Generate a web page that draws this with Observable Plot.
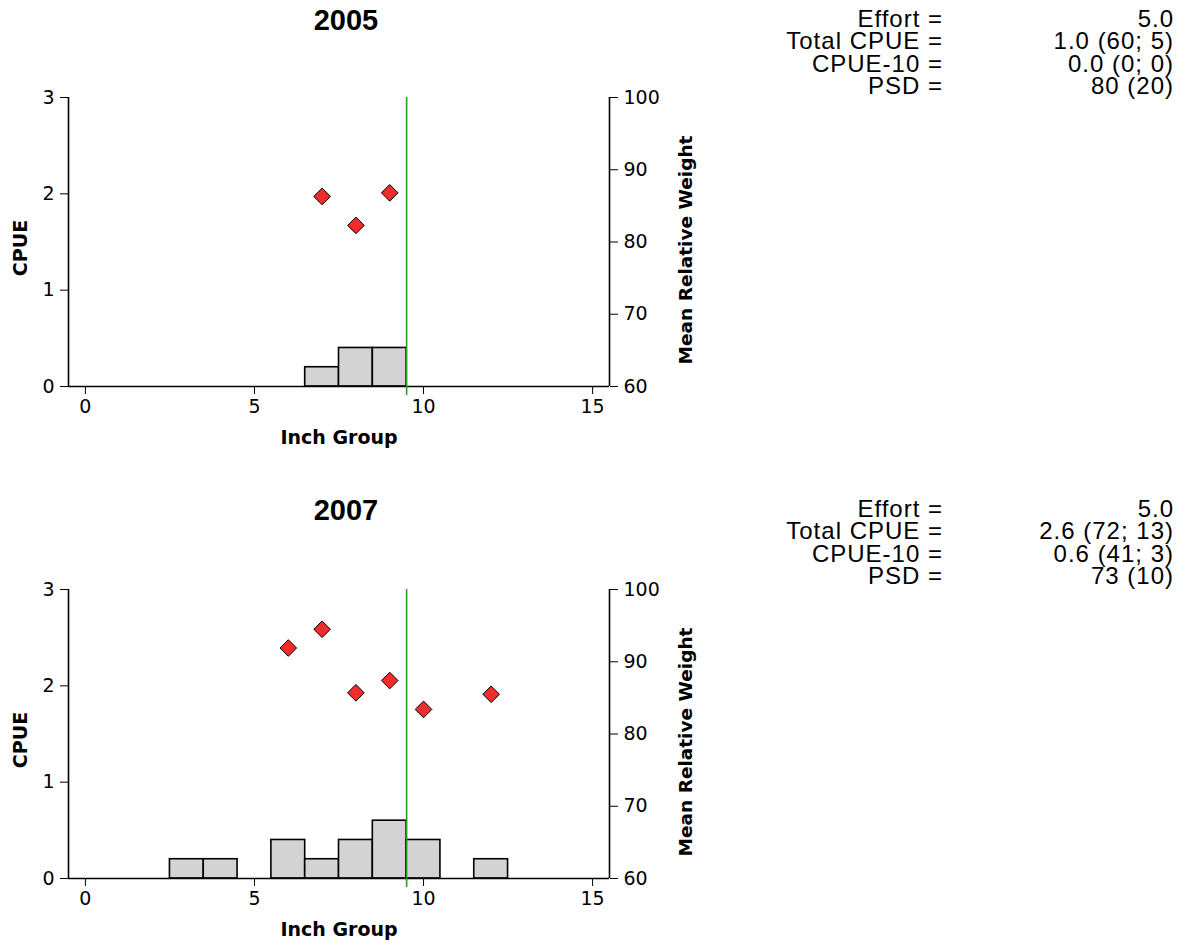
<!DOCTYPE html>
<html>
<head>
<meta charset="utf-8">
<script src="https://cdn.jsdelivr.net/npm/d3@7"></script>
<script src="https://cdn.jsdelivr.net/npm/@observablehq/plot@0.6"></script>
<style>
  html, body { margin: 0; padding: 0; background: #fff; }
  #root { position: relative; width: 1187px; height: 950px; overflow: hidden; background: #fff; }
  .layer { position: absolute; left: 0; }
  .title { position: absolute; width: 200px; text-align: center; font-family: "Liberation Sans", Arial, sans-serif;
           font-weight: bold; font-size: 29px; line-height: 29px; color: #000; }
  .stats { position: absolute; font-family: "Liberation Sans", Arial, sans-serif; font-size: 24px;
           line-height: 22.3px; color: #000; text-align: right; white-space: pre; letter-spacing: 1px; }
</style>
</head>
<body>
<div id="root"></div>
<script>
// ---------- data ----------
const years = ["2005", "2007"];

const xDomain = [-0.5, 15.5];
const xTicks = [0, 5, 10, 15];
const cpueDomain = [0, 3];
const cpueTicks = [0, 1, 2, 3];
const wrDomain = [60, 100];
const wrTicks = [60, 70, 80, 90, 100];
const lengthLine = [9.5, 9.5];

// CPUE histogram (inch group, CPUE)
const cpueGroups2005 = [7, 8, 9];
const cpueValues2005 = [0.2, 0.4, 0.4];
const cpueGroups2007 = [3, 4, 6, 7, 8, 9, 10, 12];
const cpueValues2007 = [0.2, 0.2, 0.4, 0.2, 0.4, 0.6, 0.4, 0.2];

// Mean relative weight (inch group, Wr)
const wrGroups2005 = [7, 8, 9];
const wrValues2005 = [86.3, 82.3, 86.8];
const wrGroups2007 = [6, 7, 8, 9, 10, 12];
const wrValues2007 = [91.9, 94.5, 85.7, 87.4, 83.4, 85.5];

// summary statistics
const statLabels = ["Effort =", "Total CPUE =", "CPUE-10 =", "PSD ="];
const statValues2005 = ["5.0", "1.0 (60; 5)", "0.0 (0; 0)", "80 (20)"];
const statValues2007 = ["5.0", "2.6 (72; 13)", "0.6 (41; 3)", "73 (10)"];

// ---------- drawing ----------
const root = document.getElementById("root");
const W = 720, H = 455;
const margins = {marginTop: 97, marginLeft: 68, marginRight: W - 609, marginBottom: H - 386};
const axisStyle = {fontFamily: "'DejaVu Sans', sans-serif", fontSize: "19px", background: "transparent", overflow: "visible", color: "#000"};
const fmt = d => String(d);

function panel(top, titleTop, statTop, year, gx, gy, wx, wy, stats, line) {
  const bars = gx.map((g, i) => ({g, v: gy[i]}));
  const pts = wx.map((g, i) => ({g, w: wy[i]}));

  const p1 = Plot.plot({
    width: W, height: H, ...margins,
    style: axisStyle,
    x: {domain: xDomain, ticks: xTicks, tickFormat: fmt, tickSize: 8, tickPadding: 5, label: null},
    y: {domain: cpueDomain, ticks: cpueTicks, tickFormat: fmt, tickSize: 8, tickPadding: 6, label: null},
    marks: [
      Plot.rect(bars, {x1: d => d.g - 0.5, x2: d => d.g + 0.5, y1: () => 0, y2: "v",
                       fill: "#d3d3d3", stroke: "#000", strokeWidth: 1.6}),
      Plot.ruleX([xDomain[0]], {stroke: "#000", strokeWidth: 1.6}),
      Plot.ruleY([cpueDomain[0]], {stroke: "#000", strokeWidth: 1.6}),
      Plot.ruleX([line], {stroke: "#2b9a2b", strokeWidth: 1.6, insetBottom: -9}),
      Plot.text(["Inch Group"], {text: d => d, frameAnchor: "bottom", dy: 57, textAnchor: "middle",
                 fontWeight: "bold", fontSize: 19, fill: "#000"}),
      Plot.text(["CPUE"], {text: d => d, frameAnchor: "left", rotate: -90, dx: -48, dy: 6, textAnchor: "middle",
                 fontWeight: "bold", fontSize: 19, fill: "#000"})
    ]
  });
  p1.classList.add("layer");
  p1.style.top = top + "px";
  root.appendChild(p1);

  const p2 = Plot.plot({
    width: W, height: H, ...margins,
    style: axisStyle,
    x: {domain: xDomain, axis: null},
    y: {domain: wrDomain, ticks: wrTicks, tickFormat: fmt, axis: "right", tickSize: 8, tickPadding: 6, label: null},
    marks: [
      Plot.ruleX([xDomain[1]], {stroke: "#000", strokeWidth: 1.6}),
      Plot.dot(pts, {x: "g", y: "w", symbol: "diamond2", r: 7.5, fill: "#f02c2c", stroke: "#000", strokeWidth: 1}),
      Plot.text(["Mean Relative Weight"], {text: d => d, frameAnchor: "right", rotate: -90, dx: 77, dy: 8, textAnchor: "middle",
                 fontWeight: "bold", fontSize: 18.5, fill: "#000"})
    ]
  });
  p2.classList.add("layer");
  p2.style.top = top + "px";
  root.appendChild(p2);

  const t = document.createElement("div");
  t.className = "title";
  t.style.left = (346 - 100) + "px";
  t.style.top = titleTop + "px";
  t.textContent = year;
  root.appendChild(t);

  const lab = document.createElement("div");
  lab.className = "stats";
  lab.style.right = (1187 - 943) + "px";
  lab.style.top = statTop + "px";
  lab.textContent = statLabels.join("\n");
  root.appendChild(lab);

  const val = document.createElement("div");
  val.className = "stats";
  val.style.right = (1187 - 1174) + "px";
  val.style.top = statTop + "px";
  val.textContent = stats.join("\n");
  root.appendChild(val);
}

panel(0, 6, 8, years[0], cpueGroups2005, cpueValues2005, wrGroups2005, wrValues2005, statValues2005, lengthLine[0]);
panel(492, 496, 498, years[1], cpueGroups2007, cpueValues2007, wrGroups2007, wrValues2007, statValues2007, lengthLine[1]);
</script>
</body>
</html>
